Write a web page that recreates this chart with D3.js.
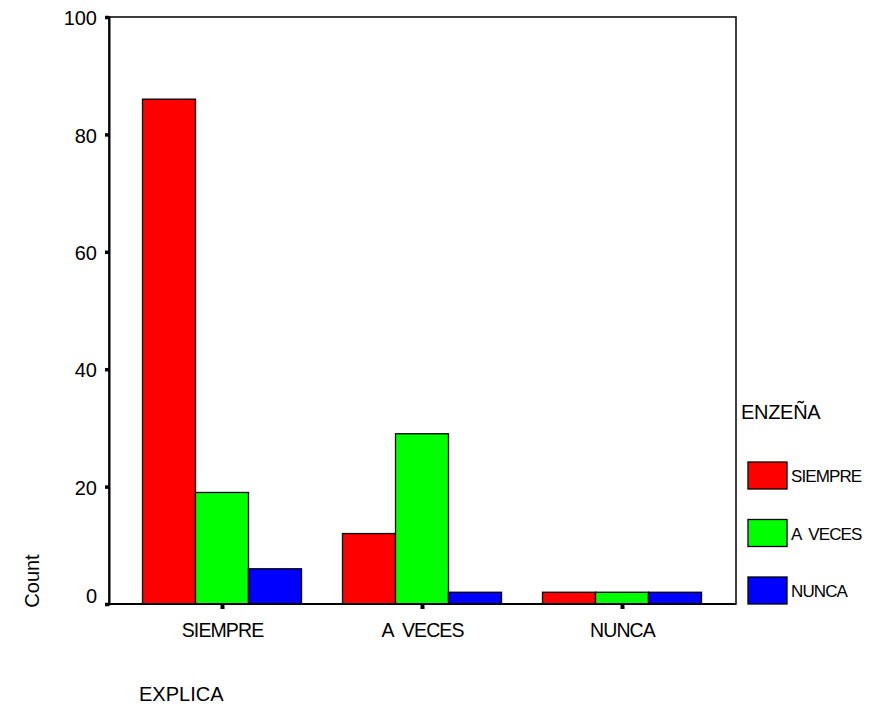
<!DOCTYPE html>
<html><head><meta charset="utf-8">
<script src="https://cdn.jsdelivr.net/npm/d3@7"></script>
<style>body{margin:0;background:#fff}svg{display:block}text{font-family:"Liberation Sans",Arial,sans-serif}</style>
</head><body><div id="c"></div>
<script>
const categories = ["SIEMPRE", "A VECES", "NUNCA"];
const seriesNames = ["SIEMPRE", "A VECES", "NUNCA"];
const siempre = [86, 12, 2];
const aveces = [19, 29, 2];
const nunca = [6, 2, 2];
const yTicks = [0, 20, 40, 60, 80, 100];
const colors = ["#ff0000", "#00ff00", "#0000ff"];
const seriesValues = [siempre, aveces, nunca];

const W = 883, H = 707;
const svg = d3.select("#c").append("svg").attr("width", W).attr("height", H);
const L = 109, R = 736, T = 17, B = 604;
const x0 = d3.scalePoint().domain(categories).range([222, 622]);
const groupW = 159;
const x1 = d3.scaleBand().domain(seriesNames).range([-groupW / 2, groupW / 2]);
const y = d3.scaleLinear().domain([0, 100]).range([B, T]);

// frame
svg.append("rect").attr("x", L).attr("y", T).attr("width", R - L).attr("height", B - T)
  .attr("fill", "none").attr("stroke", "#000").attr("stroke-width", 1.5);

// bars
categories.forEach((c, i) => {
  seriesNames.forEach((s, j) => {
    const v = seriesValues[j][i];
    svg.append("rect")
      .attr("x", x0(c) + x1(s))
      .attr("y", y(v))
      .attr("width", x1.bandwidth())
      .attr("height", B - y(v))
      .attr("fill", colors[j]).attr("stroke", "#000").attr("stroke-width", 1.3);
  });
});

// y axis
const ya = svg.append("g").attr("transform", `translate(${L},0)`)
  .call(d3.axisLeft(y).tickValues(yTicks).tickSize(4).tickPadding(8));
ya.select(".domain").attr("stroke-width", 2);
ya.selectAll(".tick line").attr("stroke-width", 3.5);
ya.selectAll("text").attr("font-size", 20).attr("fill", "#000")
  .attr("dy", d => d === 0 ? "-0.1em" : "0.38em");

// x axis
const xa = svg.append("g").attr("transform", `translate(0,${B})`)
  .call(d3.axisBottom(x0).tickSize(5).tickPadding(14));
xa.select(".domain").remove();
xa.selectAll(".tick line").attr("stroke-width", 4);
xa.selectAll("text").attr("font-size", 19.5).attr("fill", "#000").attr("letter-spacing", "-0.9px")
  .attr("word-spacing", "5px").attr("dy", "0.71em");
svg.append("line").attr("x1", L).attr("x2", R).attr("y1", B).attr("y2", B).attr("stroke", "#000").attr("stroke-width", 2);

// titles
svg.append("text").attr("transform", "translate(39,581) rotate(-90)").attr("text-anchor", "middle")
  .attr("font-size", 20).text("Count");
svg.append("text").attr("x", 139).attr("y", 701).attr("font-size", 20).text("EXPLICA");

// legend
svg.append("text").attr("x", 741).attr("y", 419).attr("font-size", 20).attr("letter-spacing", "-0.3px").text("ENZEÑA");
const leg = svg.append("g");
seriesNames.forEach((s, j) => {
  const yy = 462 + j * 57.5;
  leg.append("rect").attr("x", 748).attr("y", yy).attr("width", 39).attr("height", 27)
    .attr("fill", colors[j]).attr("stroke", "#000").attr("stroke-width", 1.3);
  leg.append("text").attr("x", 791).attr("y", yy + 20).attr("font-size", 17).attr("letter-spacing", "-0.9px")
    .attr("word-spacing", "4px").text(s);
});
</script></body></html>
